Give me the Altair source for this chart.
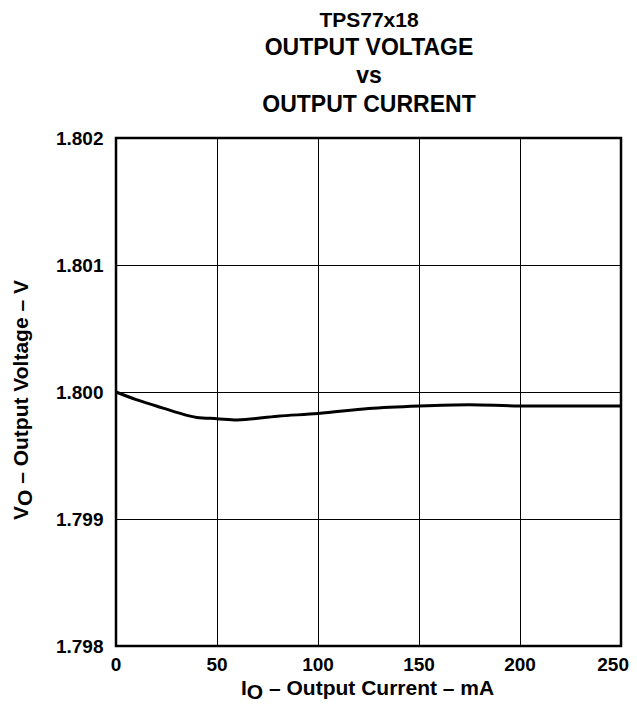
import altair as alt
import pandas as pd

# ---- data ----
current_ma = [0, 10, 20, 30, 40, 50, 60, 80, 100, 125, 150, 175, 200, 225, 250]
voltage_v = [1.80000, 1.79994, 1.79989, 1.79984, 1.79980, 1.79979, 1.79978,
             1.79981, 1.79983, 1.79987, 1.79989, 1.79990, 1.79989, 1.79989, 1.79989]
x_ticks = [0, 50, 100, 150, 200, 250]
y_ticks = [1.798, 1.799, 1.800, 1.801, 1.802]
title_lines = ["TPS77x18", "OUTPUT VOLTAGE", "vs", "OUTPUT CURRENT"]
x_title_parts = ["I", "O", "– Output Current – mA"]
y_title_parts = ["V", "O", "– Output Voltage – V"]

FONT = "Liberation Sans"
W, H = 505, 508

df = pd.DataFrame({"I": current_ma, "V": voltage_v})
xscale = alt.Scale(domain=[0, 250], nice=False)

line = alt.Chart(df).mark_line(color="black", strokeWidth=3, interpolate="monotone").encode(
    x=alt.X("I:Q", scale=xscale,
            axis=alt.Axis(values=x_ticks, title=None, labels=False)),
    y=alt.Y("V:Q", scale=alt.Scale(domain=[1.798, 1.802], nice=False, zero=False),
            axis=alt.Axis(values=y_ticks, format=".3f", title=None, labelPadding=13)),
)

# x tick labels as text marks placed through the x scale
xt = pd.DataFrame({"I": x_ticks, "lab": [str(v) for v in x_ticks]})
xlab_mid = alt.Chart(xt[xt["I"] < 250]).mark_text(
    font=FONT, fontWeight="bold", fontSize=19, color="black", align="center", baseline="alphabetic",
).encode(x=alt.X("I:Q", scale=xscale), y=alt.value(H + 25), text="lab:N")
xlab_end = alt.Chart(xt[xt["I"] == 250]).mark_text(
    font=FONT, fontWeight="bold", fontSize=19, color="black", align="right", baseline="alphabetic", dx=8,
).encode(x=alt.X("I:Q", scale=xscale), y=alt.value(H + 25), text="lab:N")


def txt(s, x, y, size, align="center", angle=0):
    d = pd.DataFrame({"t": [s]})
    return alt.Chart(d).mark_text(
        font=FONT, fontWeight="bold", fontSize=size, align=align,
        baseline="alphabetic", angle=angle, color="black",
    ).encode(text="t:N", x=alt.value(x), y=alt.value(y))


layers = [line, xlab_mid, xlab_end]
# title (plot-relative coordinates; plot origin at page (116,138))
cx = 253
layers.append(txt(title_lines[0], cx, -111, 21))
layers.append(txt(title_lines[1], cx, -83, 23))
layers.append(txt(title_lines[2], cx, -55, 23))
layers.append(txt(title_lines[3], cx, -26, 23))

# x axis title with subscript
fs = 21
x0 = 125
layers.append(txt(x_title_parts[0], x0, 557, fs, align="left"))
layers.append(txt(x_title_parts[1], x0 + 0.278 * fs, 561, fs, align="left"))
layers.append(txt(x_title_parts[2], x0 + (0.278 + 0.778 + 0.278) * fs, 557, fs, align="left"))

# y axis title with subscript (rotated)
y0 = 382
layers.append(txt(y_title_parts[0], -88, y0, fs, align="left", angle=270))
layers.append(txt(y_title_parts[1], -84, y0 - 0.667 * fs, fs, align="left", angle=270))
layers.append(txt(y_title_parts[2], -88, y0 - (0.667 + 0.778 + 0.278) * fs, fs, align="left", angle=270))

chart = alt.layer(*layers).properties(
    width=W, height=H,
    autosize=alt.AutoSizeParams(type="none"),
    padding={"left": 108, "top": 130, "right": 8, "bottom": 56},
).configure_view(
    stroke="black", strokeWidth=2.5,
).configure_axis(
    grid=True, gridColor="black", gridWidth=1, gridOpacity=1,
    domain=False, ticks=False,
    labelFont=FONT, labelFontWeight="bold", labelFontSize=19, labelColor="black",
)

chart.save("out.html", embed_options={"renderer": "svg", "actions": False})
